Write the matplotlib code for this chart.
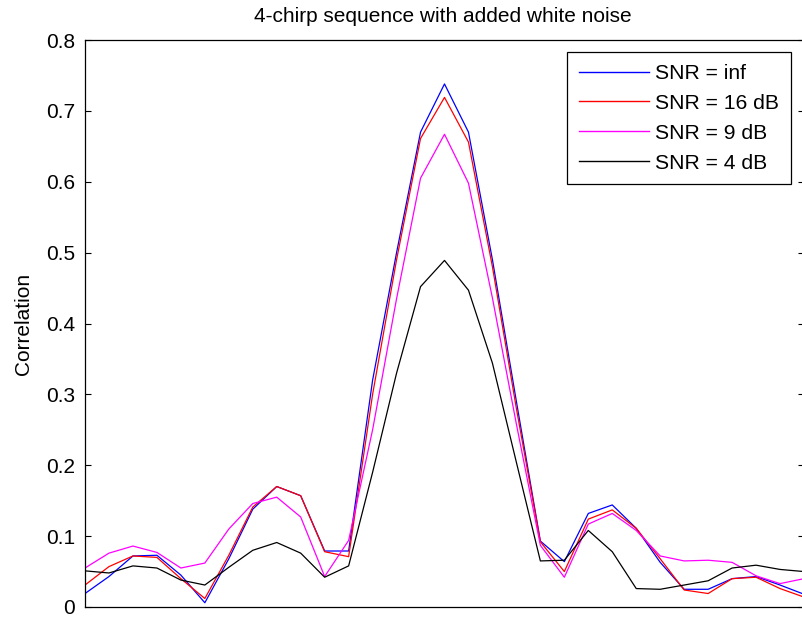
import matplotlib
matplotlib.use("Agg")
import matplotlib.pyplot as plt
import numpy as np

plt.rcParams['font.family'] = ['Liberation Sans', 'DejaVu Sans']

# Data (lag index 0..30)
lags = list(range(31))
snr_inf = [0.019, 0.043, 0.072, 0.073, 0.045, 0.006, 0.068, 0.138, 0.170, 0.157, 0.079,
           0.079, 0.320, 0.500, 0.670, 0.738, 0.670, 0.490, 0.290, 0.093, 0.064, 0.132,
           0.144, 0.111, 0.063, 0.025, 0.025, 0.040, 0.043, 0.031, 0.018]
snr_16 = [0.031, 0.057, 0.072, 0.070, 0.040, 0.012, 0.073, 0.141, 0.170, 0.157, 0.078,
          0.071, 0.300, 0.490, 0.661, 0.719, 0.656, 0.480, 0.280, 0.092, 0.050, 0.124,
          0.137, 0.111, 0.068, 0.024, 0.019, 0.040, 0.042, 0.026, 0.014]
snr_9 = [0.055, 0.076, 0.086, 0.077, 0.055, 0.062, 0.110, 0.146, 0.155, 0.127, 0.043,
         0.094, 0.250, 0.435, 0.605, 0.667, 0.598, 0.436, 0.258, 0.087, 0.042, 0.117,
         0.132, 0.108, 0.072, 0.065, 0.066, 0.063, 0.044, 0.033, 0.040]
snr_4 = [0.051, 0.048, 0.058, 0.055, 0.038, 0.031, 0.056, 0.080, 0.091, 0.076, 0.042,
         0.058, 0.190, 0.330, 0.452, 0.489, 0.447, 0.344, 0.204, 0.065, 0.066, 0.108,
         0.078, 0.026, 0.025, 0.031, 0.037, 0.055, 0.059, 0.053, 0.050]
labels = ["SNR = inf", "SNR = 16 dB", "SNR = 9 dB", "SNR = 4 dB"]
colors = ["#0000ff", "#ff0000", "#ff00ff", "#000000"]
yticks = [0, 0.1, 0.2, 0.3, 0.4, 0.5, 0.6, 0.7, 0.8]
ytick_labels = ["0", "0.1", "0.2", "0.3", "0.4", "0.5", "0.6", "0.7", "0.8"]

W, H = 803, 617
fig = plt.figure(figsize=(W / 100, H / 100), dpi=100)
left_px, right_px, top_px, bottom_px = 85, 804, 40, 607
ax = fig.add_axes([left_px / W, (H - bottom_px) / H,
                   (right_px - left_px) / W, (bottom_px - top_px) / H])

for ys, c, lab in zip([snr_inf, snr_16, snr_9, snr_4], colors, labels):
    ax.plot(lags, ys, color=c, lw=0.9, label=lab)

ax.set_xlim(0, 30)
ax.set_ylim(0, 0.8)
ax.set_xticks([])
ax.set_yticks(yticks)
ax.set_yticklabels(ytick_labels)
ax.tick_params(axis='y', direction='in', length=4.5, width=0.8, left=True, right=True,
               labelsize=15, pad=7)
for s in ax.spines.values():
    s.set_linewidth(0.9)

fig.text(443 / W, 1 - 17 / H, "4-chirp sequence with added white noise",
         ha='center', va='center', fontsize=15)
fig.text(24 / W, 1 - 324 / H, "Correlation", rotation=90, ha='center', va='center',
         fontsize=15)

leg = ax.legend(loc='upper right', bbox_to_anchor=(790.7 / W, 1 - 52.3 / H),
                bbox_transform=fig.transFigure, fontsize=15.2, frameon=True,
                fancybox=False, edgecolor='black', framealpha=1,
                handlelength=3.3, handletextpad=0.3, labelspacing=0.52,
                borderpad=0.55, borderaxespad=0)
leg.get_frame().set_linewidth(0.9)
for ln in leg.get_lines():
    ln.set_linewidth(1.0)

fig.savefig("out.png", dpi=100)
